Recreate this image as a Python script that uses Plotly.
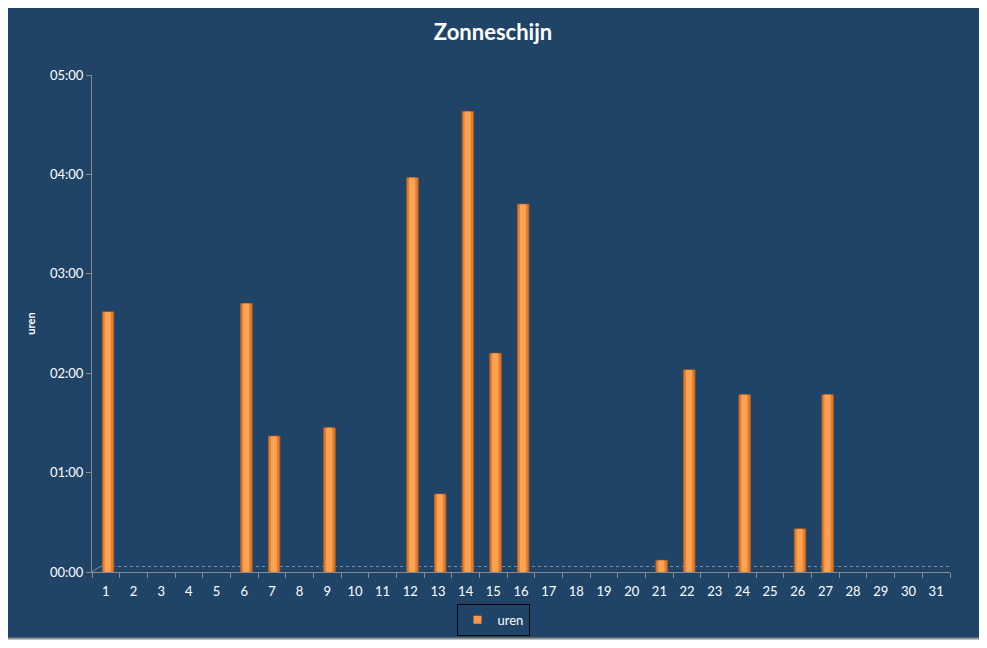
import plotly.graph_objects as go

# =========================
# DATA - zonneschijn per dag (minuten)
# =========================
dagen = list(range(1, 32))
minuten = [157, 0, 0, 0, 0, 162, 82, 0, 87, 0, 0, 238, 47, 278, 132, 222,
           0, 0, 0, 0, 7, 122, 0, 107, 0, 26, 107, 0, 0, 0, 0]
# dagen zonder zon -> geen staaf
uren = [m / 60 if m else None for m in minuten]

ytick_vals = [0, 1, 2, 3, 4, 5]
ytick_text = ["00:00", "01:00", "02:00", "03:00", "04:00", "05:00"]

BG = "#1F4467"
ORANJE = "#F9984A"
DONKER = "#E27F33"
LICHT = "#FFA352"
RAND = "#B65E1C"
GRIJS = "#8C8C8C"
FONT = "Lato"

# pagina heeft 8px body-marge -> figuur 8px kleiner
W, H = 979, 640
ML, MR, MT, MB = 84, 37, 67, 73
PW, PH = W - ML - MR, H - MT - MB


def px_x(p):
    # figuur-pixel -> paper x
    return (p - ML) / PW


def px_y(p):
    # figuur-pixel -> paper y
    return (H - MB - p) / PH


fig = go.Figure()

# cilinder: donkere basis + lichte glans
fig.add_trace(go.Bar(
    x=dagen,
    y=uren,
    name="uren",
    width=0.41,
    offset=-0.125,
    marker=dict(color=DONKER, line=dict(color=RAND, width=1)),
    showlegend=False,
))
fig.add_trace(go.Bar(
    x=dagen,
    y=uren,
    name="uren",
    width=0.22,
    offset=-0.04,
    marker=dict(color=LICHT, line=dict(width=0)),
    showlegend=False,
    hoverinfo="skip",
))
# legenda-item (klein vierkantje zoals in Excel)
fig.add_trace(go.Scatter(
    x=[None], y=[None],
    mode="markers",
    name="uren",
    marker=dict(symbol="square", size=8, color=ORANJE),
))

fig.update_layout(
    width=W,
    height=H,
    paper_bgcolor="white",
    plot_bgcolor="rgba(0,0,0,0)",
    margin=dict(l=ML, r=MR, t=MT, b=MB),
    barmode="overlay",
    title=dict(
        text="<b>Zonneschijn</b>",
        x=485 / W, xanchor="center", xref="container",
        y=1 - 24 / H, yanchor="middle", yref="container",
        font=dict(family=FONT, size=22, color="white"),
    ),
    showlegend=True,
    legend=dict(
        x=px_x(485), xanchor="center",
        y=px_y(615), yanchor="middle",
        orientation="h",
        itemwidth=30,
        bgcolor="rgba(0,0,0,0)",
        bordercolor="black",
        borderwidth=1,
        font=dict(family=FONT, size=13, color="white"),
    ),
)

fig.update_xaxes(
    range=[0.5, 31.5],
    tickvals=dagen,
    ticks="",
    showgrid=False,
    zeroline=False,
    showline=True,
    linecolor=GRIJS,
    linewidth=1,
    tickfont=dict(family=FONT, size=13, color="white"),
    ticklabelstandoff=7,
    minor=dict(tick0=0.5, dtick=1, ticks="outside", ticklen=5, tickcolor=GRIJS),
)

fig.update_yaxes(
    range=[0, 5],
    tickvals=ytick_vals,
    ticktext=ytick_text,
    ticks="outside",
    ticklen=5,
    tickcolor=GRIJS,
    showgrid=False,
    zeroline=False,
    showline=True,
    linecolor=GRIJS,
    linewidth=1,
    tickfont=dict(family=FONT, size=13, color="white"),
    title=dict(text="<b>uren</b>", standoff=12,
               font=dict(family=FONT, size=11, color="white")),
)

# achtergrond kader
fig.add_shape(type="rect", xref="paper", yref="paper",
              x0=px_x(-4), x1=px_x(974), y0=px_y(634), y1=px_y(-6),
              fillcolor=BG, line=dict(color=GRIJS, width=2), layer="below")

# 3D vloer (stippellijnen)
fig.add_shape(type="line", xref="x", yref="y",
              x0=0.79, x1=31.85, y0=0.055, y1=0.055,
              line=dict(color=GRIJS, width=1, dash="dot"), layer="below")
fig.add_shape(type="line", xref="x", yref="y",
              x0=0.5, x1=0.79, y0=0, y1=0.055,
              line=dict(color=GRIJS, width=1), layer="below")
fig.add_shape(type="line", xref="x", yref="y",
              x0=31.5, x1=31.85, y0=0, y1=0.055,
              line=dict(color=GRIJS, width=1), layer="below")

fig.write_html("out.html")
